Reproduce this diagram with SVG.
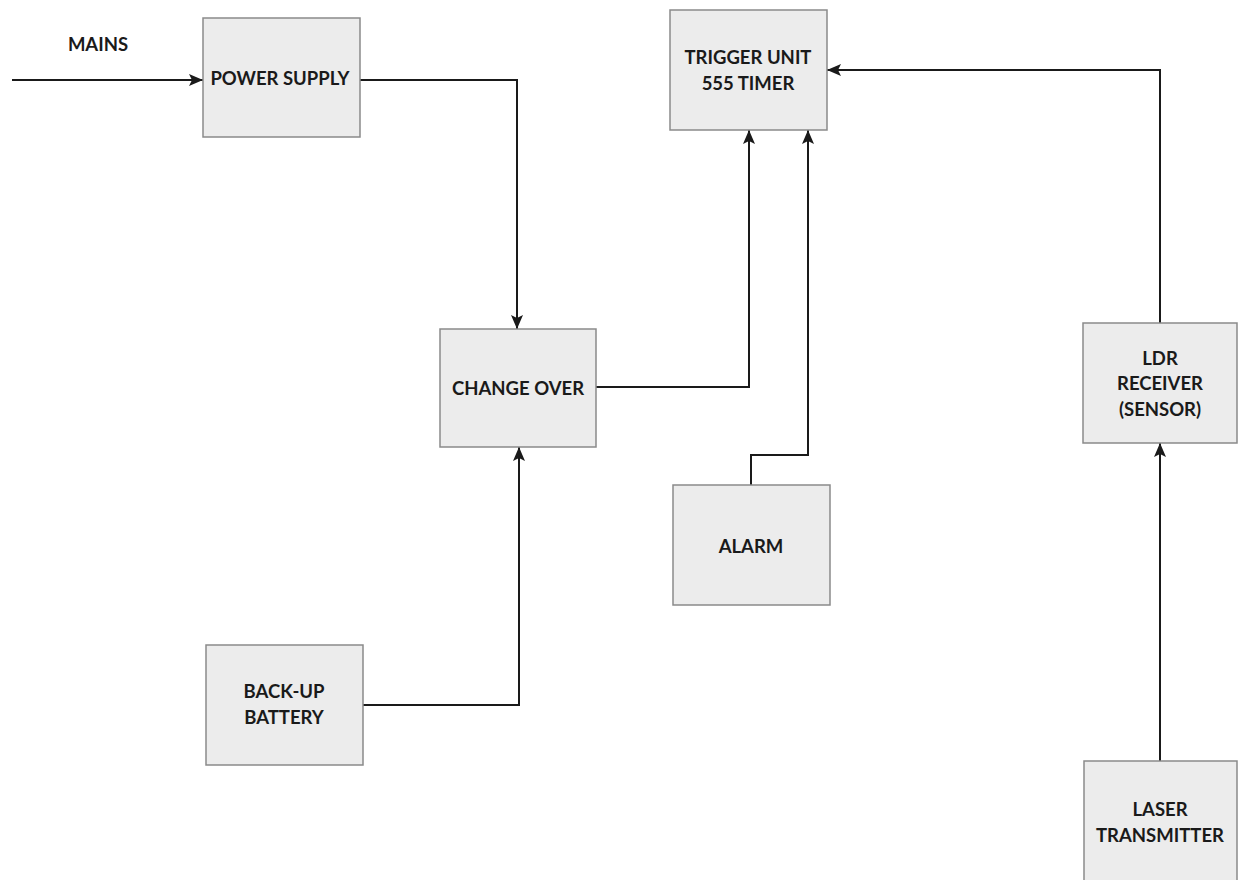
<svg xmlns="http://www.w3.org/2000/svg" width="1239" height="880" viewBox="0 0 1239 880">
<style>
.box{fill:#ececec;stroke:#8a8a8a;stroke-width:1.5}
.lbl{font-family:Lato,"Open Sans",sans-serif;font-weight:bold;font-size:18.5px;fill:#1a1a1a;text-anchor:middle}
.c{fill:none;stroke:#1a1a1a;stroke-width:2}
</style>
<defs>
<marker id="ah" viewBox="0 0 14 12" refX="14" refY="6" markerWidth="14" markerHeight="12" markerUnits="userSpaceOnUse" orient="auto">
<path d="M0,0 L14,6 L0,12 L3,6 z" fill="#1a1a1a"/>
</marker>
</defs>
<rect width="1239" height="880" fill="#ffffff"/>
<g id="connectors">
<path class="c" d="M12,80 H203" marker-end="url(#ah)"/>
<path class="c" d="M360,80 H517 V329" marker-end="url(#ah)"/>
<path class="c" d="M596,387 H749 V130" marker-end="url(#ah)"/>
<path class="c" d="M751,485 V455 H808 V130" marker-end="url(#ah)"/>
<path class="c" d="M363,705 H519 V447" marker-end="url(#ah)"/>
<path class="c" d="M1160,323 V70 H827" marker-end="url(#ah)"/>
<path class="c" d="M1160,761 V443" marker-end="url(#ah)"/>
</g>
<g id="mains"><text class="lbl" x="98" y="51">MAINS</text></g>
<g id="power-supply"><rect class="box" x="203" y="18" width="157" height="119"/><text class="lbl" x="280" y="85">POWER SUPPLY</text></g>
<g id="trigger-unit"><rect class="box" x="670" y="10" width="157" height="120"/><text class="lbl" x="748" y="64">TRIGGER UNIT</text><text class="lbl" x="748" y="90">555 TIMER</text></g>
<g id="change-over"><rect class="box" x="440" y="329" width="156" height="118"/><text class="lbl" x="518" y="395">CHANGE OVER</text></g>
<g id="alarm"><rect class="box" x="673" y="485" width="157" height="120"/><text class="lbl" x="751" y="553">ALARM</text></g>
<g id="battery"><rect class="box" x="206" y="645" width="157" height="120"/><text class="lbl" x="284" y="698">BACK-UP</text><text class="lbl" x="284" y="724">BATTERY</text></g>
<g id="ldr"><rect class="box" x="1083" y="323" width="154" height="120"/><text class="lbl" x="1160" y="365">LDR</text><text class="lbl" x="1160" y="390">RECEIVER</text><text class="lbl" x="1160" y="416">(SENSOR)</text></g>
<g id="laser"><rect class="box" x="1084" y="761" width="153" height="125"/><text class="lbl" x="1160" y="816">LASER</text><text class="lbl" x="1160" y="842">TRANSMITTER</text></g>
</svg>
